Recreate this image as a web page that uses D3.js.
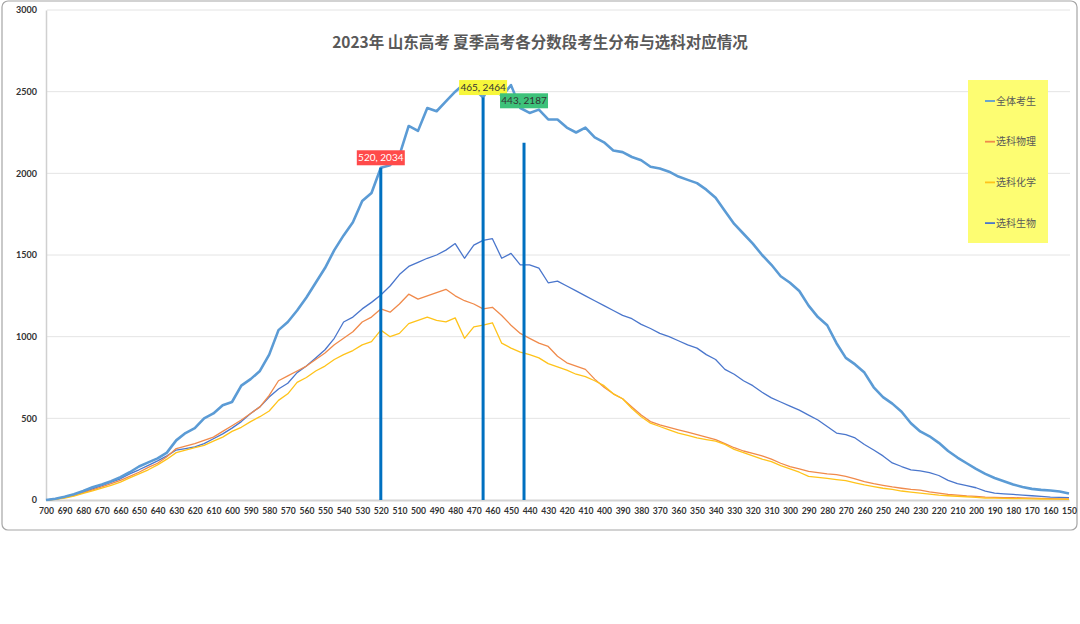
<!DOCTYPE html>
<html><head><meta charset="utf-8">
<script src="https://cdn.jsdelivr.net/npm/d3@7"></script>
<style>html,body{margin:0;padding:0;background:#fff;}svg{display:block;}</style>
</head><body>
<svg id="chart" width="1080" height="624"></svg>
<script>
const scores = d3.range(700, 149, -5);
const seriesNames = ["全体考生", "选科物理", "选科化学", "选科生物"];
const allStudents = [0,8,20,35,55,78,95,115,140,170,205,230,255,290,365,410,440,500,530,580,600,700,740,790,890,1040,1090,1160,1240,1330,1420,1530,1620,1700,1830,1880,2034,2050,2110,2290,2260,2400,2380,2440,2500,2550,2520,2464,2560,2470,2540,2400,2370,2390,2330,2330,2280,2250,2280,2220,2190,2140,2130,2100,2080,2040,2030,2010,1980,1960,1940,1900,1850,1770,1690,1630,1570,1500,1440,1370,1330,1280,1190,1120,1070,960,870,830,780,690,630,590,540,470,420,390,350,300,260,225,190,160,135,115,95,80,68,62,58,52,40];
const physics = [0,5,15,28,45,62,80,100,120,145,170,200,225,265,315,330,345,365,385,420,455,490,530,570,640,730,760,790,820,860,900,950,990,1030,1090,1120,1170,1150,1200,1260,1230,1250,1270,1290,1250,1220,1200,1170,1180,1130,1070,1020,990,960,940,880,840,820,800,740,690,650,620,570,520,480,460,445,430,415,400,385,370,345,320,300,285,270,250,225,205,190,175,168,160,155,145,130,112,100,90,80,72,65,60,50,42,35,30,25,22,18,16,15,14,13,11,10,8,7,6];
const chemistry = [0,4,12,24,40,56,72,90,110,135,160,185,215,250,290,305,320,335,360,385,420,445,480,510,545,610,650,720,750,790,820,860,890,915,950,970,1040,1000,1020,1080,1100,1120,1100,1090,1115,990,1060,1070,1085,960,930,905,890,870,835,815,795,770,755,730,700,650,620,560,510,470,450,430,410,395,380,370,360,340,310,290,270,250,235,210,190,170,145,138,132,125,118,105,92,82,72,65,55,48,42,36,30,26,23,20,16,12,11,10,9,8,7,6,5,5,4];
const biology = [0,6,16,30,48,68,88,110,130,160,185,212,240,270,306,315,325,345,375,405,440,480,530,570,630,680,715,780,820,870,920,990,1090,1120,1170,1210,1255,1310,1380,1430,1455,1480,1500,1530,1570,1480,1560,1590,1600,1480,1510,1440,1440,1420,1330,1340,1310,1280,1250,1220,1190,1160,1130,1110,1075,1050,1020,1000,975,950,930,890,860,800,770,730,700,660,625,600,575,550,520,490,450,410,400,380,340,306,270,227,205,185,178,168,150,120,100,88,75,55,42,38,34,30,26,22,18,16,15];
const xTicks = d3.range(700, 149, -10);
const yTicks = [0, 500, 1000, 1500, 2000, 2500, 3000];
const markerScores = [520, 465, 443];
const markerValues = [2034, 2464, 2187];
const titleText = "2023年 山东高考 夏季高考各分数段考生分布与选科对应情况";

const svg = d3.select("#chart");
const x = d3.scaleLinear().domain([700, 150]).range([46, 1069]);
const y = d3.scaleLinear().domain([0, 3000]).range([500, 10]);

// frame
svg.append("rect").attr("x", 2).attr("y", 1).attr("width", 1075).attr("height", 529)
  .attr("rx", 6).attr("fill", "none").attr("stroke", "#a6a6a6").attr("stroke-width", 1.2);

// gridlines
svg.append("g").selectAll("line").data(yTicks.filter(d => d > 0)).join("line")
  .attr("x1", 47).attr("x2", 1070).attr("y1", d => y(d)).attr("y2", d => y(d))
  .attr("stroke", "#e4e4e4").attr("stroke-width", 1);

// y axis
const yAxis = d3.axisLeft(y).tickValues(yTicks).tickSize(0).tickPadding(9).tickFormat(d3.format("d"));
const gy = svg.append("g").attr("transform", "translate(46,0)").call(yAxis);
gy.select(".domain").attr("stroke", "#d0d0d0").attr("stroke-width", 1.5);
gy.selectAll("text").attr("font-family", "Lato, 'Open Sans', sans-serif").attr("font-size", 9)
  .attr("font-weight", 700).attr("fill", "#333");

// x axis
const xAxis = d3.axisBottom(x).tickValues(xTicks).tickSize(0).tickPadding(8).tickFormat(d3.format("d"));
const gx = svg.append("g").attr("transform", "translate(0,500)").call(xAxis);
gx.select(".domain").attr("stroke", "#d4d4d4").attr("stroke-width", 2);
gx.selectAll("text").attr("font-family", "Lato, 'Open Sans', sans-serif").attr("font-size", 8.6)
  .attr("font-weight", 700).attr("fill", "#333");

// series
const series = [
  {name: seriesNames[3], values: biology, color: "#4a76cc", width: 1.3},
  {name: seriesNames[1], values: physics, color: "#f08a4b", width: 1.3},
  {name: seriesNames[2], values: chemistry, color: "#ffc31a", width: 1.3},
  {name: seriesNames[0], values: allStudents, color: "#5b9bd5", width: 2.6}
];
const line = d3.line().x((d, i) => x(scores[i])).y(d => y(d));
svg.append("g").selectAll("path").data(series).join("path")
  .attr("d", s => line(s.values)).attr("fill", "none")
  .attr("stroke", s => s.color).attr("stroke-width", s => s.width)
  .attr("stroke-linejoin", "round");

// marker lines
svg.append("g").selectAll("line").data(markerScores).join("line")
  .attr("x1", d => x(d)).attr("x2", d => x(d))
  .attr("y1", 500).attr("y2", (d, i) => y(markerValues[i]))
  .attr("stroke", "#0070c0").attr("stroke-width", 3);

// marker labels
const labelStyle = [
  {fill: "#ff4a4a", text: "#fff", dy: -10},
  {fill: "#f7f73a", text: "#333", dy: -10},
  {fill: "#3dc27a", text: "#333", dy: -42}
];
const lg = svg.append("g").selectAll("g").data(markerScores).join("g")
  .attr("transform", (d, i) => `translate(${x(d)},${y(markerValues[i]) + labelStyle[i].dy})`);
lg.append("rect").attr("x", -24).attr("y", -7.5).attr("width", 48).attr("height", 15)
  .attr("fill", (d, i) => labelStyle[i].fill);
lg.append("text").attr("text-anchor", "middle").attr("dy", "0.35em")
  .attr("font-family", "Lato, 'Open Sans', sans-serif").attr("font-size", 10)
  .attr("fill", (d, i) => labelStyle[i].text)
  .text((d, i) => `${d}, ${markerValues[i]}`);

// title
svg.append("text").attr("x", 540).attr("y", 48).attr("text-anchor", "middle")
  .attr("font-family", "'Noto Sans CJK SC', sans-serif").attr("font-weight", 700)
  .attr("font-size", 15.5).attr("fill", "#595959").text(titleText);

// legend
svg.append("rect").attr("x", 968).attr("y", 80).attr("width", 80).attr("height", 163).attr("fill", "#fdfd72");
const legendOrder = [series[3], series[1], series[2], series[0]];
const leg = svg.append("g").selectAll("g").data(legendOrder).join("g")
  .attr("transform", (d, i) => `translate(985,${101 + i * 40.7})`);
leg.append("line").attr("x1", 0).attr("x2", 10).attr("stroke", d => d.color).attr("stroke-width", 1.8);
leg.append("text").attr("x", 11).attr("dy", "0.35em")
  .attr("font-family", "'Noto Sans CJK SC', sans-serif").attr("font-size", 10)
  .attr("fill", "#595959").text(d => d.name);
</script>
</body></html>
